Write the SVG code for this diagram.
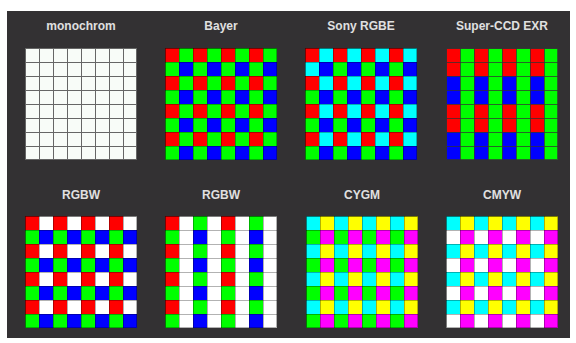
<svg xmlns="http://www.w3.org/2000/svg" width="576" height="343" viewBox="0 0 576 343">
<style>
.t{font-family:"Liberation Sans",Arial,sans-serif;font-weight:bold;font-size:12px;fill:#e0e0e0;text-anchor:middle}
.R{fill:#ff0000}.G{fill:#00ff00}.B{fill:#0000ff}.C{fill:#00ffff}.Y{fill:#ffff00}.M{fill:#ff00ff}.W{fill:#ffffff}
.bd{fill:none;stroke:#000;stroke-opacity:0.3}
</style>
<defs>
<pattern id="pBayer" patternUnits="userSpaceOnUse" width="28" height="28">
<rect class="R" x="0" y="0" width="14" height="14"/><rect class="G" x="14" y="0" width="14" height="14"/>
<rect class="G" x="0" y="14" width="14" height="14"/><rect class="B" x="14" y="14" width="14" height="14"/>
</pattern>
<pattern id="pSony" patternUnits="userSpaceOnUse" width="28" height="28">
<rect class="R" x="0" y="0" width="14" height="14"/><rect class="C" x="14" y="0" width="14" height="14"/>
<rect class="G" x="0" y="14" width="14" height="14"/><rect class="B" x="14" y="14" width="14" height="14"/>
</pattern>
<pattern id="pExr" patternUnits="userSpaceOnUse" width="28" height="56">
<rect class="R" x="0" y="0" width="14" height="28"/><rect class="B" x="0" y="28" width="14" height="28"/>
<rect class="G" x="14" y="0" width="14" height="56"/>
</pattern>
<pattern id="pRgbw1" patternUnits="userSpaceOnUse" width="28" height="28">
<rect class="R" x="0" y="0" width="14" height="14"/><rect class="W" x="14" y="0" width="14" height="14"/>
<rect class="G" x="0" y="14" width="14" height="14"/><rect class="B" x="14" y="14" width="14" height="14"/>
</pattern>
<pattern id="pRgbw2" patternUnits="userSpaceOnUse" width="56" height="28">
<rect class="R" x="0" y="0" width="14" height="14"/><rect class="G" x="0" y="14" width="14" height="14"/>
<rect class="W" x="14" y="0" width="14" height="28"/>
<rect class="G" x="28" y="0" width="14" height="14"/><rect class="B" x="28" y="14" width="14" height="14"/>
<rect class="W" x="42" y="0" width="14" height="28"/>
</pattern>
<pattern id="pCygm" patternUnits="userSpaceOnUse" width="28" height="28">
<rect class="C" x="0" y="0" width="14" height="14"/><rect class="Y" x="14" y="0" width="14" height="14"/>
<rect class="G" x="0" y="14" width="14" height="14"/><rect class="M" x="14" y="14" width="14" height="14"/>
</pattern>
<pattern id="pCmyw" patternUnits="userSpaceOnUse" width="28" height="28">
<rect class="C" x="0" y="0" width="14" height="14"/><rect class="Y" x="14" y="0" width="14" height="14"/>
<rect class="W" x="0" y="14" width="14" height="14"/><rect class="M" x="14" y="14" width="14" height="14"/>
</pattern>
<pattern id="grid" patternUnits="userSpaceOnUse" width="14" height="14">
<path d="M0 0.5H14M0.5 0V14" fill="none" stroke="#000" stroke-opacity="0.3" stroke-width="1"/>
</pattern>
<pattern id="gridDark" patternUnits="userSpaceOnUse" width="14" height="14">
<path d="M0 0.5H14M0.5 0V14" fill="none" stroke="#333" stroke-opacity="0.75" stroke-width="1"/>
</pattern>
<pattern id="gridMono" patternUnits="userSpaceOnUse" width="14" height="14">
<path d="M0 0.5H14M0.5 0V14" fill="none" stroke="#666" stroke-width="1"/>
</pattern>
</defs>
<rect x="0" y="0" width="576" height="343" fill="#ffffff"/>
<rect x="7" y="11" width="563" height="327" fill="#333133"/>

<g id="monochrom">
<text class="t" x="81" y="30">monochrom</text>
<g transform="translate(25,48)">
<rect width="112" height="112" fill="#f8fcf8"/>
<rect width="112" height="112" fill="url(#gridMono)"/>
<rect x="0.5" y="0.5" width="111" height="111" fill="none" stroke="#666"/>
</g>
</g>

<g id="bayer">
<text class="t" x="221" y="30">Bayer</text>
<g transform="translate(165,48)">
<rect width="112" height="112" fill="url(#pBayer)"/>
<rect width="112" height="112" fill="url(#grid)"/>
<rect class="bd" x="0.5" y="0.5" width="111" height="111"/>
</g>
</g>

<g id="sony-rgbe">
<text class="t" x="361" y="30">Sony RGBE</text>
<g transform="translate(305,48)">
<rect width="112" height="112" fill="url(#pSony)"/>
<rect class="C" x="0" y="14" width="14" height="14"/>
<rect width="112" height="112" fill="url(#grid)"/>
<rect class="bd" x="0.5" y="0.5" width="111" height="111"/>
</g>
</g>

<g id="super-ccd-exr">
<text class="t" x="502" y="30">Super-CCD EXR</text>
<g transform="translate(446,48)">
<rect width="112" height="112" fill="url(#pExr)"/>
<rect width="112" height="112" fill="url(#gridDark)"/>
<rect x="0.5" y="0.5" width="111" height="111" fill="none" stroke="#333" stroke-opacity="0.75"/>
</g>
</g>

<g id="rgbw-1">
<text class="t" x="81" y="199">RGBW</text>
<g transform="translate(25,216)">
<rect width="112" height="112" fill="url(#pRgbw1)"/>
<rect width="112" height="112" fill="url(#grid)"/>
<rect class="bd" x="0.5" y="0.5" width="111" height="111"/>
</g>
</g>

<g id="rgbw-2">
<text class="t" x="221" y="199">RGBW</text>
<g transform="translate(165,216)">
<rect width="112" height="112" fill="url(#pRgbw2)"/>
<rect width="112" height="112" fill="url(#grid)"/>
<rect class="bd" x="0.5" y="0.5" width="111" height="111"/>
</g>
</g>

<g id="cygm">
<text class="t" x="362" y="199">CYGM</text>
<g transform="translate(306,216)">
<rect width="112" height="112" fill="url(#pCygm)"/>
<rect width="112" height="112" fill="url(#grid)"/>
<rect class="bd" x="0.5" y="0.5" width="111" height="111"/>
</g>
</g>

<g id="cmyw">
<text class="t" x="502" y="199">CMYW</text>
<g transform="translate(446,216)">
<rect width="112" height="112" fill="url(#pCmyw)"/>
<rect width="112" height="112" fill="url(#grid)"/>
<rect class="bd" x="0.5" y="0.5" width="111" height="111"/>
</g>
</g>
<g id="connectors"/>
</svg>
